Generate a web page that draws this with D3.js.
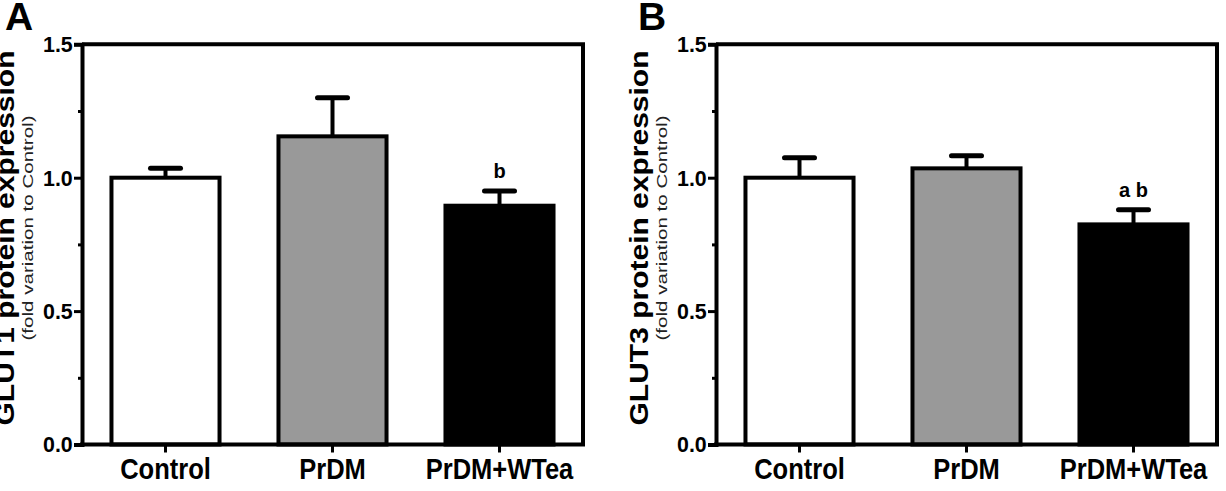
<!DOCTYPE html>
<html>
<head>
<meta charset="utf-8">
<script src="https://cdn.jsdelivr.net/npm/d3@7"></script>
<style>
  body { margin: 0; background: #fff; }
  svg text { font-family: "Liberation Sans", Arial, sans-serif; }
</style>
</head>
<body>
<div id="chart"></div>
<script>
// data
var groups = ["Control", "PrDM", "PrDM+WTea"]
var glut1Mean = [1.0, 1.155, 0.895]
var glut1Err = [0.035, 0.145, 0.055]
var glut1Sig = ["", "", "b"]
var glut3Mean = [1.0, 1.035, 0.825]
var glut3Err = [0.075, 0.047, 0.055]
var glut3Sig = ["", "", "a b"]
var barFills = ["#ffffff", "#999999", "#000000"]
var majorTicks = [0, 0.5, 1.0, 1.5]
var minorTicks = [0.25, 0.75, 1.25]

const W = 1226, H = 491
const plotTop = 44.3, plotBottom = 444.5

var svg = d3.select("#chart")
  .append("svg")
  .attr("width", W)
  .attr("height", H)

function drawPanel(opt) {
  var g = svg.append("g")

  var x = d3.scaleBand()
    .domain(groups)
    .range([opt.left, opt.right])
    .paddingInner(0.353)
    .paddingOuter(0.1765)

  var y = d3.scaleLinear()
    .domain([0, 1.5])
    .range([plotBottom, plotTop])

  var rows = groups.map((d, i) => ({
    group: d, mean: opt.mean[i], err: opt.err[i], sig: opt.sig[i], fill: barFills[i]
  }))

  // bars
  g.selectAll("rect.bar")
    .data(rows)
    .enter()
    .append("rect")
    .attr("class", "bar")
    .attr("x", d => x(d.group))
    .attr("width", x.bandwidth())
    .attr("y", d => y(d.mean))
    .attr("height", d => y(0) - y(d.mean))
    .attr("fill", d => d.fill)
    .attr("stroke", "#000")
    .attr("stroke-width", 4)

  // error bars (upper only)
  var cap = 30
  g.selectAll("line.err")
    .data(rows)
    .enter()
    .append("line")
    .attr("x1", d => x(d.group) + x.bandwidth() / 2)
    .attr("x2", d => x(d.group) + x.bandwidth() / 2)
    .attr("y1", d => y(d.mean))
    .attr("y2", d => y(d.mean + d.err))
    .attr("stroke", "#000")
    .attr("stroke-width", 4)
  g.selectAll("line.cap")
    .data(rows)
    .enter()
    .append("line")
    .attr("x1", d => x(d.group) + x.bandwidth() / 2 - cap / 2)
    .attr("x2", d => x(d.group) + x.bandwidth() / 2 + cap / 2)
    .attr("y1", d => y(d.mean + d.err))
    .attr("y2", d => y(d.mean + d.err))
    .attr("stroke", "#000")
    .attr("stroke-width", 5)
    .attr("stroke-linecap", "round")

  // significance letters
  g.selectAll("text.sig")
    .data(rows.filter(d => d.sig))
    .enter()
    .append("text")
    .attr("x", d => x(d.group) + x.bandwidth() / 2)
    .attr("y", d => y(d.mean + d.err) - 13)
    .attr("text-anchor", "middle")
    .attr("font-size", 20)
    .attr("font-weight", "bold")
    .text(d => d.sig)

  // frame (top and right)
  g.append("path")
    .attr("d", "M" + opt.left + "," + plotTop + "H" + opt.right + "V" + plotBottom)
    .attr("fill", "none")
    .attr("stroke", "#000")
    .attr("stroke-width", 4)

  // y axis
  var yAxis = g.append("g")
    .attr("transform", "translate(" + opt.left + ",0)")
    .call(d3.axisLeft(y).tickValues(majorTicks).tickSize(8).tickPadding(2)
      .tickFormat(d3.format(".1f")))
  yAxis.select(".domain").attr("stroke-width", 4)
  yAxis.selectAll(".tick line").attr("stroke-width", 3)
  yAxis.selectAll("text")
    .attr("font-size", 23)
    .attr("font-weight", "bold")
    .attr("font-family", "Liberation Sans, Arial, sans-serif")
    .attr("fill", "#000")
    .attr("transform", "scale(0.93,1)")

  var yMinor = g.append("g")
    .attr("transform", "translate(" + opt.left + ",0)")
    .call(d3.axisLeft(y).tickValues(minorTicks).tickSize(4).tickFormat(""))
  yMinor.select(".domain").remove()
  yMinor.selectAll(".tick line").attr("stroke-width", 3)

  // x axis
  var xAxis = g.append("g")
    .attr("transform", "translate(0," + plotBottom + ")")
    .call(d3.axisBottom(x).tickSize(8).tickSizeOuter(0).tickPadding(6))
  xAxis.select(".domain").attr("stroke-width", 4)
    .attr("d", "M" + (opt.left - 2) + ",0H" + (opt.right + 2))
  xAxis.selectAll(".tick line").attr("stroke-width", 3)
  xAxis.selectAll("text")
    .attr("font-size", 29)
    .attr("font-weight", "bold")
    .attr("font-family", "Liberation Sans, Arial, sans-serif")
    .attr("fill", "#000")
    .attr("dy", "0.71em")
    .attr("transform", "scale(0.88,1)")

  // y axis titles
  var cy = 238
  g.append("text")
    .attr("transform", "translate(" + (opt.left - 78 + 10) + "," + cy + ") rotate(-90)")
    .attr("text-anchor", "middle")
    .attr("font-size", 26)
    .attr("font-weight", "bold")
    .attr("textLength", 375)
    .attr("lengthAdjust", "spacingAndGlyphs")
    .text(opt.title)
  g.append("text")
    .attr("transform", "translate(" + (opt.left - 54 + 5) + "," + (cy - 10) + ") rotate(-90)")
    .attr("text-anchor", "middle")
    .attr("font-size", 15)
    .attr("textLength", 225)
    .attr("lengthAdjust", "spacingAndGlyphs")
    .attr("fill", "#222")
    .text("(fold variation to Control)")

  // panel letter
  svg.append("text")
    .attr("x", opt.letterX)
    .attr("y", 30)
    .attr("font-size", 39)
    .attr("font-weight", "bold")
    .text(opt.letter)
}

drawPanel({left: 82, right: 583, mean: glut1Mean, err: glut1Err, sig: glut1Sig,
  title: "GLUT1 protein expression", letter: "A", letterX: 5})
drawPanel({left: 716, right: 1217, mean: glut3Mean, err: glut3Err, sig: glut3Sig,
  title: "GLUT3 protein expression", letter: "B", letterX: 638})
</script>
</body>
</html>
